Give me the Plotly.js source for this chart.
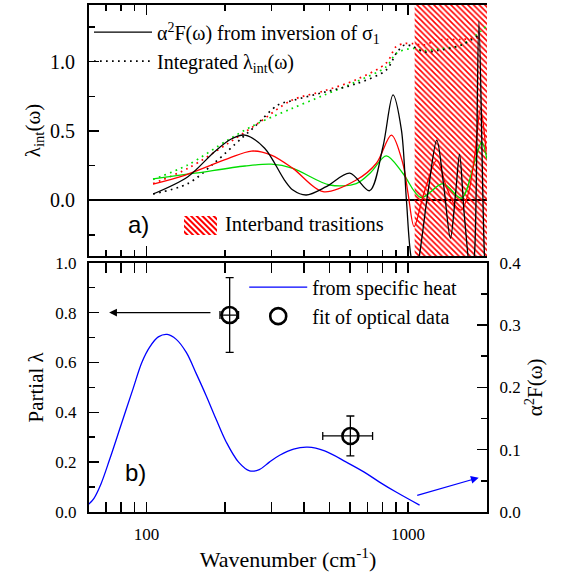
<!DOCTYPE html>
<html><head><meta charset="utf-8">
<script src="https://cdn.plot.ly/plotly-3.0.1.min.js"></script>
<style>body{margin:0;background:#fff}#chart{width:561px;height:574px}</style>
</head><body><div id="chart"></div>
<script>
// ---------- data ----------
// top panel: alpha^2F(w) from inversion of sigma1 (solid lines)
const a2fBlackW = [106,144,182,210,238,283,337,363,408,487,599,713,802,876,943,986,1030,1070,1190,1288,1370,1452,1520,1574,1640,1750,1800,1866,1960,2000];
const a2fBlackV = [0.045,0.17,0.35,0.44,0.47,0.375,0.146,0.074,0.038,0.098,0.195,0.069,0.386,0.76,0.51,0.0,-0.42,-0.5,0.05,0.434,0.1,-0.274,0.05,0.33,-0.1,-0.6,-0.35,1.29,-0.4,-0.6];
const a2fRedW = [106,140,205,252,300,363,473,634,757,864,955,1000,1055,1150,1288,1400,1507,1600,1700,1798,1892,1990];
const a2fRedV = [0.117,0.18,0.30,0.355,0.326,0.23,0.062,0.146,0.267,0.47,0.267,0.05,-0.19,0.05,0.29,0.1,-0.034,-0.07,0.05,0.32,0.66,0.35];
const a2fGreenW = [106,153,238,300,363,502,634,720,826,955,1120,1359,1600,1798,1914,2000];
const a2fGreenV = [0.154,0.195,0.247,0.26,0.23,0.11,0.12,0.2,0.32,0.195,0.02,0.12,0.015,0.28,0.42,0.30];
// top panel: integrated lambda_int(w) (dotted lines)
const lamBlackW = [106,144,182,231,259,318,363,480,634,826,902,970,1040,1150,1300,1600,1900];
const lamBlackV = [0.045,0.12,0.27,0.447,0.53,0.687,0.72,0.78,0.84,0.94,1.06,1.12,1.11,1.07,1.08,1.12,1.2];
const lamRedW = [106,144,205,267,358,480,634,826,902,970,1040,1150,1300,1600,1850];
const lamRedV = [0.12,0.23,0.41,0.555,0.72,0.79,0.87,0.99,1.11,1.13,1.13,1.12,1.155,1.16,1.17];
const lamGreenW = [106,144,205,259,358,480,634,826,902,1040,1150,1300,1600,1900,2000];
const lamGreenV = [0.15,0.255,0.435,0.543,0.66,0.76,0.855,0.963,1.06,1.095,1.08,1.09,1.12,1.22,1.26];
// interband transitions region
const interbandW = [1060, 2004];
const interbandV = [-0.402, 1.408];
// bottom panel: alpha^2F from specific heat
const heatW = [60,63,67,72.4,80,88.9,96,103,111,120,130,142,155,169,185,202,225,248,270,295,323,365,414,480,581,680,778,900,1107];
const heatV = [0.012,0.022,0.045,0.085,0.14,0.198,0.24,0.265,0.281,0.285,0.277,0.256,0.222,0.187,0.148,0.112,0.08,0.066,0.068,0.08,0.091,0.101,0.104,0.098,0.080,0.064,0.048,0.032,0.011];
// bottom panel: partial lambda from fit of optical data
const optW = [208, 602];
const optLam = [0.79, 0.305];
const optLamErr = [0.15, 0.08];
const optWErr = [17, 130];
// arrows (wavenumber, value)
const arrowLeft = {fromW:178, toW:72, val:0.8};
const arrowRight = {fromW:1070, fromV:0.026, toW:1863, toV:0.055};
// ticks
const xMajor = [100, 1000];
const xMinor = [60,70,80,90,200,300,400,500,600,700,800,900,2000];
const yTopMajor = [0, 0.5, 1.0];
const yTopMinor = [-0.25, 0.25, 0.75, 1.25];
const yBotMajor = [0, 0.2, 0.4, 0.6, 0.8, 1.0];
const yBotMinor = [0.1, 0.3, 0.5, 0.7, 0.9];
const yBotRMajor = [0, 0.1, 0.2, 0.3, 0.4];
const yBotRMinor = [0.05, 0.15, 0.25, 0.35];

// ---------- styles ----------
const serif = 'Liberation Serif';
const sans = 'Liberation Sans';
const tickFont = {family: serif, size: 17, color: '#000'};
const black = '#000000', red = '#ff0000', green = '#00dd00', blue = '#0000ff';
const xRange = [Math.log10(60.3), Math.log10(2004)];
const yTopRange = [-0.402, 1.408];

function solid(w, v, c, show, name) {
  return {x: w, y: v, xaxis: 'x', yaxis: 'y', mode: 'lines', type: 'scatter',
    line: {color: c, width: 1.3, shape: 'spline', smoothing: 0.9},
    showlegend: show, name: name || '', legend: 'legend', legendgroup: 'g1', hoverinfo: 'skip'};
}
function dotted(w, v, c, show, name) {
  return {x: w, y: v, xaxis: 'x', yaxis: 'y', mode: 'lines', type: 'scatter',
    line: {color: c, width: 1.7, dash: '1.7px,4.3px', shape: 'spline', smoothing: 0.9},
    showlegend: show, name: name || '', legend: 'legend', legendgroup: 'g2', hoverinfo: 'skip'};
}

const traces = [
  {x: [interbandW[0], interbandW[1], interbandW[1], interbandW[0], interbandW[0]],
   y: [interbandV[0], interbandV[0], interbandV[1], interbandV[1], interbandV[0]],
   xaxis: 'x', yaxis: 'y', mode: 'lines', fill: 'toself', type: 'scatter',
   line: {width: 0, color: red}, fillcolor: 'rgba(0,0,0,0)',
   fillpattern: {shape: '\\', fgcolor: red, bgcolor: 'rgba(0,0,0,0)', size: 4, solidity: 0.4},
   name: 'Interband trasitions', showlegend: false, hoverinfo: 'skip'},
  dotted(lamGreenW, lamGreenV, green, false),
  dotted(lamRedW, lamRedV, red, false),
  dotted(lamBlackW, lamBlackV, black, true, 'Integrated λ<sub>int</sub>(ω)'),
  solid(a2fGreenW, a2fGreenV, green, false),
  solid(a2fRedW, a2fRedV, red, false),
  solid(a2fBlackW, a2fBlackV, black, true, 'α<sup>2</sup>F(ω) from inversion of σ<sub>1</sub>'),
  {x: heatW, y: heatV, xaxis: 'x2', yaxis: 'y4', mode: 'lines', type: 'scatter',
   line: {color: blue, width: 1.3, shape: 'spline', smoothing: 1.0},
   name: 'from specific heat', legend: 'legend2', legendgroup: 'b1', showlegend: true, hoverinfo: 'skip'},
  {x: optW, y: optLam, xaxis: 'x2', yaxis: 'y2', mode: 'markers', type: 'scatter',
   marker: {symbol: 'circle-open', size: 16, color: black, line: {width: 2.6, color: black}},
   error_y: {type: 'data', array: optLamErr, color: black, thickness: 1.3, width: 4},
   error_x: {type: 'data', array: optWErr, color: black, thickness: 1.3, width: 4},
   name: 'fit of optical data', legend: 'legend2', legendgroup: 'b2', showlegend: true, hoverinfo: 'skip'}
];

const axLine = {showline: true, linewidth: 2, linecolor: black, showgrid: false, zeroline: false,
  ticks: 'inside', tickcolor: black, tickwidth: 1.5, ticklen: 10, tickfont: tickFont, ticklabelstandoff: 7};
function xAx(anchor, labels) {
  return Object.assign({}, axLine, {type: 'log', range: xRange, anchor: anchor, domain: [0, 1],
    tickmode: 'array', tickvals: xMajor, ticktext: xMajor.map(String), showticklabels: labels,
    mirror: 'allticks', ticklabelstandoff: 6,
    minor: {tickmode: 'array', tickvals: xMinor, ticks: 'inside', ticklen: 6, tickwidth: 1.5, tickcolor: black}});
}
function fmt(a, d) { return a.map(v => v.toFixed(d)); }

const hatchSvg = "<svg xmlns='http://www.w3.org/2000/svg' width='33' height='19'>" +
  "<defs><pattern id='p' width='4' height='4' patternUnits='userSpaceOnUse' patternTransform='rotate(-45)'>" +
  "<rect width='2' height='4' fill='red'/></pattern></defs>" +
  "<rect width='33' height='19' fill='url(#p)'/></svg>";

const layout = {
  width: 561, height: 574,
  margin: {l: 89, r: 74, t: 5, b: 62},
  paper_bgcolor: 'white', plot_bgcolor: 'white',
  font: {family: serif, color: black, size: 17},
  xaxis: xAx('y', false),
  xaxis2: Object.assign(xAx('y2', true), {matches: 'x',
    title: {text: 'Wavenumber (cm<sup>-1</sup>)', font: {family: serif, size: 22, color: black}, standoff: 8}}),
  yaxis: Object.assign({}, axLine, {domain: [0.5049, 1], range: yTopRange, anchor: 'x',
    tickmode: 'array', tickvals: yTopMajor, ticktext: fmt(yTopMajor, 1),
    tickfont: {family: serif, size: 20, color: black}, ticklabelstandoff: 8,
    minor: {tickmode: 'array', tickvals: yTopMinor, ticks: 'inside', ticklen: 6, tickwidth: 1.5, tickcolor: black},
    zeroline: true, zerolinewidth: 2, zerolinecolor: black,
    title: {text: 'λ<sub>int</sub>(ω)', font: {family: serif, size: 21, color: black}, standoff: 4}}),
  yaxis3: Object.assign({}, axLine, {overlaying: 'y', side: 'right', anchor: 'x', range: yTopRange,
    tickmode: 'array', tickvals: yTopMajor, ticktext: fmt(yTopMajor, 1),
    minor: {tickmode: 'array', tickvals: yTopMinor, ticks: 'inside', ticklen: 6, tickwidth: 1.5, tickcolor: black},
    title: {text: 'α<sup>2</sup>F(ω)', font: {family: serif, size: 21, color: black}, standoff: 4}}),
  yaxis2: Object.assign({}, axLine, {domain: [0, 0.4917], range: [0, 1], anchor: 'x2',
    tickmode: 'array', tickvals: yBotMajor, ticktext: fmt(yBotMajor, 1),
    minor: {tickmode: 'array', tickvals: yBotMinor, ticks: 'inside', ticklen: 6, tickwidth: 1.5, tickcolor: black},
    title: {text: 'Partial λ', font: {family: serif, size: 21, color: black}, standoff: 6}}),
  yaxis4: Object.assign({}, axLine, {overlaying: 'y2', side: 'right', anchor: 'x2', range: [0, 0.4],
    tickmode: 'array', tickvals: yBotRMajor, ticktext: fmt(yBotRMajor, 1),
    minor: {tickmode: 'array', tickvals: yBotRMinor, ticks: 'inside', ticklen: 6, tickwidth: 1.5, tickcolor: black},
    title: {text: 'α<sup>2</sup>F(ω)', font: {family: serif, size: 21, color: black}, standoff: 4}}),
  legend: {x: 0.0, y: 0.985, xanchor: 'left', yanchor: 'top', bgcolor: 'rgba(0,0,0,0)',
    font: {family: serif, size: 20, color: black}, tracegroupgap: 10, itemwidth: 58, traceorder: 'reversed'},
  legend2: {x: 0.39, y: 0.482, xanchor: 'left', yanchor: 'top', bgcolor: 'rgba(0,0,0,0)',
    font: {family: serif, size: 20, color: black}, tracegroupgap: 0, itemwidth: 58},
  images: [{source: 'data:image/svg+xml;charset=utf-8,' + encodeURIComponent(hatchSvg),
    xref: 'paper', yref: 'paper', x: (184 - 89) / 398, y: (512 - 216) / 507,
    sizex: 33 / 398, sizey: 19 / 507, sizing: 'stretch', xanchor: 'left', yanchor: 'top', layer: 'above'}],
  annotations: [
    {xref: 'paper', yref: 'paper', x: (223 - 89) / 398, y: (512 - 224) / 507, xanchor: 'left', yanchor: 'middle',
     text: 'Interband trasitions', showarrow: false, font: {family: serif, size: 20.5, color: black}},
    {xref: 'paper', yref: 'paper', x: (138 - 89) / 398, y: (512 - 224) / 507, xanchor: 'center', yanchor: 'middle',
     text: 'a)', showarrow: false, font: {family: sans, size: 24, color: black}},
    {xref: 'paper', yref: 'paper', x: (135 - 89) / 398, y: (512 - 472) / 507, xanchor: 'center', yanchor: 'middle',
     text: 'b)', showarrow: false, font: {family: sans, size: 24, color: black}},
    {xref: 'x2', yref: 'y2', axref: 'x2', ayref: 'y2',
     x: Math.log10(arrowLeft.toW), y: arrowLeft.val, ax: Math.log10(arrowLeft.fromW), ay: arrowLeft.val,
     text: '', showarrow: true, arrowhead: 2, arrowsize: 1.3, arrowwidth: 1.2, arrowcolor: black},
    {xref: 'x2', yref: 'y4', axref: 'x2', ayref: 'y4',
     x: Math.log10(arrowRight.toW), y: arrowRight.toV, ax: Math.log10(arrowRight.fromW), ay: arrowRight.fromV,
     text: '', showarrow: true, arrowhead: 2, arrowsize: 1.3, arrowwidth: 1.2, arrowcolor: blue}
  ]
};

Plotly.newPlot('chart', traces, layout, {displayModeBar: false, staticPlot: true});
</script></body></html>
